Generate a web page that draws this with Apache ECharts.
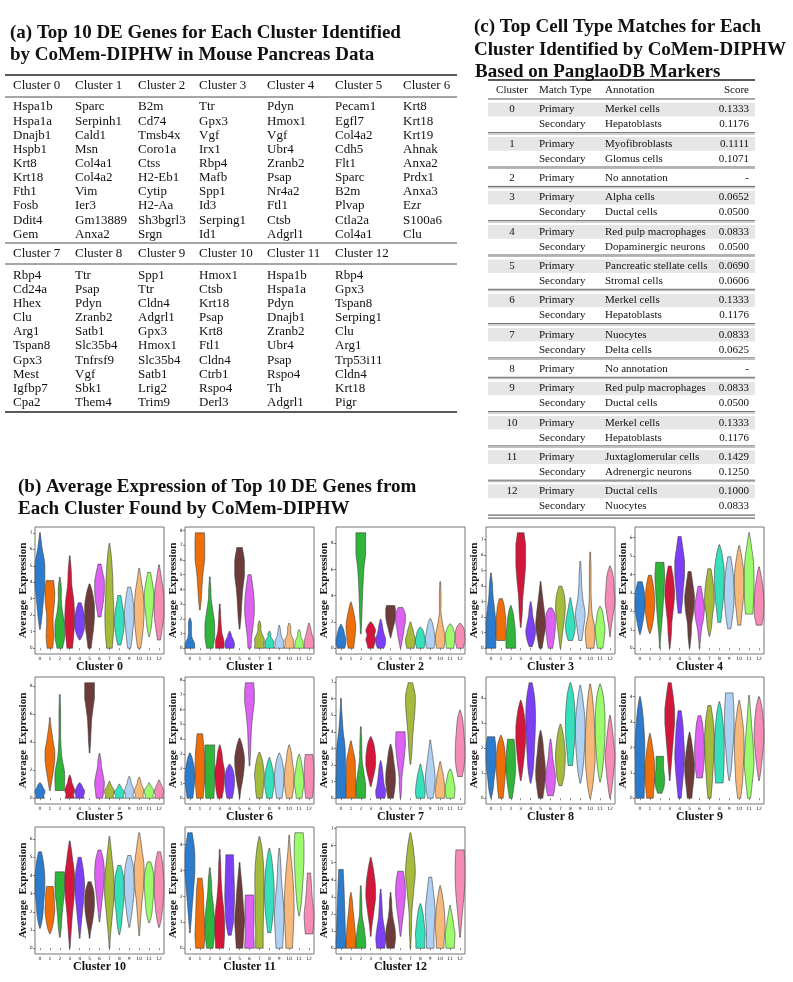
<!DOCTYPE html>
<html><head><meta charset="utf-8">
<script src="https://cdn.jsdelivr.net/npm/echarts@6/dist/echarts.min.js"></script>
<style>html,body{margin:0;padding:0;background:#fff}#c{width:793px;height:982px}</style>
</head><body><div id="c"></div>
<script>
// ---------- DATA ----------
const clusterNames = ['Cluster 0','Cluster 1','Cluster 2','Cluster 3','Cluster 4','Cluster 5','Cluster 6','Cluster 7','Cluster 8','Cluster 9','Cluster 10','Cluster 11','Cluster 12'];
const xCats = ['0','1','2','3','4','5','6','7','8','9','10','11','12'];
const violinColors = ['#2b7bce','#ee6f0a','#2fb53a','#d3173b','#7c3ff5','#6e3b3b','#dd62f3','#a6bb3c','#36e0bc','#b1d1f3','#f7b97a','#9cfb6c','#f68bb6'];

const genes0 = ['Hspa1b','Hspa1a','Dnajb1','Hspb1','Krt8','Krt18','Fth1','Fosb','Ddit4','Gem'];
const genes1 = ['Sparc','Serpinh1','Cald1','Msn','Col4a1','Col4a2','Vim','Ier3','Gm13889','Anxa2'];
const genes2 = ['B2m','Cd74','Tmsb4x','Coro1a','Ctss','H2-Eb1','Cytip','H2-Aa','Sh3bgrl3','Srgn'];
const genes3 = ['Ttr','Gpx3','Vgf','Irx1','Rbp4','Mafb','Spp1','Id3','Serping1','Id1'];
const genes4 = ['Pdyn','Hmox1','Vgf','Ubr4','Zranb2','Psap','Nr4a2','Ftl1','Ctsb','Adgrl1'];
const genes5 = ['Pecam1','Egfl7','Col4a2','Cdh5','Flt1','Sparc','B2m','Plvap','Ctla2a','Col4a1'];
const genes6 = ['Krt8','Krt18','Krt19','Ahnak','Anxa2','Prdx1','Anxa3','Ezr','S100a6','Clu'];
const genes7 = ['Rbp4','Cd24a','Hhex','Clu','Arg1','Tspan8','Gpx3','Mest','Igfbp7','Cpa2'];
const genes8 = ['Ttr','Psap','Pdyn','Zranb2','Satb1','Slc35b4','Tnfrsf9','Vgf','Sbk1','Them4'];
const genes9 = ['Spp1','Ttr','Cldn4','Adgrl1','Gpx3','Hmox1','Slc35b4','Satb1','Lrig2','Trim9'];
const genes10 = ['Hmox1','Ctsb','Krt18','Psap','Krt8','Ftl1','Cldn4','Ctrb1','Rspo4','Derl3'];
const genes11 = ['Hspa1b','Hspa1a','Pdyn','Dnajb1','Zranb2','Ubr4','Psap','Rspo4','Th','Adgrl1'];
const genes12 = ['Rbp4','Gpx3','Tspan8','Serping1','Clu','Arg1','Trp53i11','Cldn4','Krt18','Pigr'];

const matchCluster = ['0','1','2','3','4','5','6','7','8','9','10','11','12'];
const primaryAnnotation = ['Merkel cells','Myofibroblasts','No annotation','Alpha cells','Red pulp macrophages','Pancreatic stellate cells','Merkel cells','Nuocytes','No annotation','Red pulp macrophages','Merkel cells','Juxtaglomerular cells','Ductal cells'];
const primaryScore = ['0.1333','0.1111','-','0.0652','0.0833','0.0690','0.1333','0.0833','-','0.0833','0.1333','0.1429','0.1000'];
const secondaryAnnotation = ['Hepatoblasts','Glomus cells',null,'Ductal cells','Dopaminergic neurons','Stromal cells','Hepatoblasts','Delta cells',null,'Ductal cells','Hepatoblasts','Adrenergic neurons','Nuocytes'];
const secondaryScore = ['0.1176','0.1071',null,'0.0500','0.0500','0.0606','0.1176','0.0625',null,'0.0500','0.1176','0.1250','0.0833'];

// y tick labels per violin panel
const yTicks = [
  [0,1,2,3,4,5,6,7],[0,1,2,3,4,5,6,7,8],[0,2,4,6,8],[0,1,2,3,4,5,6,7],[0,1,2,3,4,5,6],
  [0,2,4,6,8],[0,1,2,3,4,5,6,7,8],[0,1,2,3,4,5,6,7],[0,1,2,3,4],[0,1,2,3,4],
  [0,1,2,3,4,5,6],[0,1,2,3,4],[0,1,2,3,4,5,6,7]
];

// each violin: [min, max, density-width at 7 evenly spaced levels from min to max (0..9)]
const violins0 = [
 [1.15,7.0, 0,2,5,9,8,2,0],[0,4.1, 3,5,4,4,7,8,5],[0,4.3, 3,8,8,3,1,1,0],[0,5.6, 3,6,8,6,2,1,0],
 [0.5,2.75, 0,4,8,9,7,4,1],[0,3.9, 1,3,6,8,8,4,0],[1.9,5.1, 1,3,6,8,8,4,1],[0,6.35, 3,6,7,5,4,2,0],
 [0.2,3.2, 1,4,7,8,6,3,1],[0,3.7, 1,3,5,8,7,4,1],[0,4.85, 1,4,7,8,6,2,0],[0.7,4.6, 0,2,4,7,8,4,1],
 [0.5,5.05, 1,4,8,8,6,2,0]];
const violins1 = [
 [0,2.05, 8,7,2,1,1,1,0],[2.6,7.85, 0,1,2,4,8,9,7],[0,4.85, 4,8,8,4,1,0.5,0],[0,3.0, 6,6,2,1,0.5,0.3,0],
 [0,1.15, 6,8,7,5,2,1,0],[1.3,6.85, 0,1,2,4,8,8,3],[0,5.0, 1,2,5,8,7,4,1],[0,1.85, 8,7,8,3,1,1,0],
 [0,1.15, 7,6,7,4,1,1,0],[0,1.55, 8,6,6,2,1,0.5,0],[0,1.7, 8,6,6,2,1,1,0],[0,1.25, 8,6,6,3,1,1,0],
 [0,1.7, 8,7,7,4,2,1,0]];
const violins2 = [
 [0,1.8, 5,8,9,6,4,2,0],[0,3.5, 3,5,7,8,5,2,0],[1.1,8.78, 0,0.5,1,2,4,9,8],[0,2.0, 3,5,8,5,8,4,0],
 [0,2.2, 4,8,8,4,2,1,0],[0.8,3.25, 0,1,3,6,8,9,6],[0,3.1, 0,1,3,5,8,8,2],[0,2.0, 5,7,9,5,3,1,0],
 [0,1.6, 5,7,9,7,5,3,0],[0,2.25, 5,7,8,6,4,2,0],[0,5.05, 5,8,3,0.5,0.3,0.3,0],[0,1.85, 5,6,7,8,6,3,0],
 [0,1.9, 4,6,8,7,7,4,0]];
const violins3 = [
 [0,4.85, 8,8,8,5,2,1,0],[0.5,3.2, 6,8,7,8,6,4,1],[0,2.75, 9,8,7,6,4,2,0],[1.35,7.45, 0,1,2,5,8,9,4],
 [0.1,3.0, 1,5,8,5,2,1,0],[0,4.3, 1,4,8,6,3,1,0],[0,2.6, 2,4,6,8,8,7,1],[0,4.0, 0,1,3,6,8,6,1],
 [0.5,3.25, 2,6,8,6,3,1,0],[0.5,5.6, 1,4,8,3,1,0.5,0],[0,6.2, 5,8,2,0.5,0.3,0.3,0],[0,2.7, 3,5,7,8,5,3,0],
 [0.75,5.3, 0,1,4,8,6,4,0]];
const violins4 = [
 [0.75,3.6, 0,2,5,8,8,6,2],[0.8,3.95, 0,3,6,8,7,4,1],[0,4.65, 0,0.5,2,4,6,8,6],[0,4.45, 0,1,2,5,8,5,1],
 [1.9,6.05, 1,3,5,8,8,4,1],[0,4.15, 0,1,2,6,8,4,1],[0,3.35, 0,0.5,2,6,8,4,1],[0.65,4.3, 0,2,4,8,7,4,1],
 [1.4,5.6, 1,3,6,8,8,4,0],[1.05,4.95, 1,4,7,8,7,4,1],[1.25,5.55, 1,3,6,8,7,3,0],[1.85,6.25, 5,7,8,8,6,2,0],
 [1.25,4.4, 3,7,8,7,5,2,0]];
const violins5 = [
 [0,1.1, 7,5,8,8,4,2,0],[0.55,5.75, 0,2,6,9,4,1,0],[0.55,7.4, 7,8,2,0.5,0.3,0.3,0],[0,1.65, 7,5,8,5,2,1,0],
 [0,1.1, 7,5,8,8,4,2,0],[3.25,8.25, 0,0.5,1,2,5,9,8],[0,3.2, 4,6,8,5,2,1,0],[0,1.2, 7,5,8,7,3,1,0],
 [0,1.0, 7,5,8,7,3,1,0],[0,1.55, 7,5,8,5,2,1,0],[0,1.5, 7,5,8,5,2,1,0],[0,1.1, 7,5,8,8,4,1,0],
 [0,1.3, 7,5,8,6,3,1,0]];
const violins6 = [
 [0,3.05, 3,5,7,8,6,3,0],[0,4.35, 4,6,8,8,7,5,3],[0,3.6, 6,7,8,8,9,9,8],[0,3.6, 2,5,7,8,4,2,0],
 [0,2.3, 3,5,7,8,7,4,0],[0,4.05, 0,1,4,7,8,4,0],[2.2,7.8, 0,0.5,1,2,5,9,6],[0,3.1, 3,5,6,8,6,3,0],
 [0,2.75, 3,5,8,7,5,2,0],[0,3.05, 3,5,7,8,6,3,0],[0,3.6, 3,6,8,7,4,2,0],[0,2.95, 3,5,8,7,4,2,0],
 [0,2.95, 4,6,7,8,8,7,5]];
const violins7 = [
 [0,6.0, 8,8,7,6,2,0.5,0],[0,3.45, 7,8,7,7,6,2,0],[0,4.3, 7,8,4,1,0.5,0.3,0],[0.7,3.7, 0,2,6,9,7,4,0],
 [0,2.25, 6,9,5,3,2,1,0],[0,3.25, 3,6,8,7,4,2,0],[0,4.0, 0,0.5,1,3,6,8,7],[2.05,6.95, 0,1,2,4,7,8,2],
 [0,2.05, 6,8,7,5,3,1,0],[0,3.5, 3,6,8,6,3,1,0],[0,2.2, 6,8,7,5,3,1,0],[0,1.75, 6,7,9,6,4,2,0],
 [1.3,5.3, 2,6,8,7,5,3,0]];
const violins8 = [
 [0,2.45, 0,2,4,7,8,8,5],[0,2.5, 2,4,6,8,7,4,0],[0,2.35, 1,3,6,8,7,6,4],[0.7,3.9, 0,2,5,8,8,4,0],
 [0.6,4.6, 0,3,5,7,8,6,1],[0,2.7, 2,5,8,7,4,2,0],[0.1,2.35, 3,7,8,5,2,1,0],[0.5,2.95, 1,5,7,8,6,3,0],
 [1.3,4.6, 2,4,7,8,7,4,0],[0.6,4.5, 0,3,6,8,7,3,0],[0,4.55, 0,4,8,8,6,3,0],[0.65,4.55, 0,3,6,8,8,5,0],
 [0,3.3, 0,2,5,8,5,2,0]];
const violins9 = [
 [0,4.0, 6,7,7,8,6,3,0],[0,2.55, 4,6,8,8,5,2,0],[0.2,1.65, 2,6,8,7,5,5,5],[0.7,4.55, 0,1,3,6,9,5,1],
 [0,3.45, 1,3,6,8,6,4,1],[0,2.6, 2,4,7,8,5,2,0],[0.8,3.25, 3,6,8,8,6,4,1],[0,3.65, 1,3,5,7,8,5,1],
 [0.6,3.8, 5,7,8,8,6,3,0],[0.7,4.15, 0,2,4,7,8,7,5],[0,3.85, 1,4,6,8,7,3,0],[0,4.05, 1,4,8,6,3,1,0],
 [0.7,4.0, 0,2,5,8,7,4,0]];
const violins10 = [
 [1.1,5.3, 0,3,5,8,8,5,1],[0.8,3.4, 0,3,6,8,7,6,4],[0.6,4.2, 0,1,2,4,7,8,7],[0,5.9, 0,1,3,7,8,3,0],
 [0.55,5.0, 0,1,3,6,8,5,1],[0.55,3.65, 0,1,4,7,8,6,1],[1.45,5.4, 0,1,3,6,8,6,1],[0,6.15, 0,1,4,8,6,2,0],
 [0.75,4.55, 0,2,4,7,8,6,1],[1.15,5.1, 0,2,5,8,8,6,1],[0.7,6.35, 0,1,3,7,8,3,0],[1.4,4.75, 0,3,5,7,8,6,1],
 [1.15,5.3, 0,3,6,8,7,5,1]];
const violins11 = [
 [0.6,4.45, 0,1,3,6,9,7,2],[0,2.7, 6,8,7,6,5,4,2],[0,3.1, 4,7,8,5,2,1,0],[0,3.8, 6,8,7,3,1,0.5,0],
 [0.5,3.6, 1,5,7,8,7,6,5],[0,3.3, 4,6,8,5,3,1,0],[0,2.05, 8,7,6,7,7,7,6],[0,4.3, 5,5,6,7,7,4,0],
 [0.6,3.85, 1,4,7,8,6,3,0],[0,3.85, 4,6,8,5,2,1,0],[0,4.35, 4,6,8,7,4,1,0],[1.25,4.45, 0,2,4,6,8,9,6],
 [0.55,2.9, 5,7,8,5,3,2,1]];
const violins12 = [
 [0,4.6, 9,7,6,5,4,3,2],[0,3.25, 9,8,6,4,2,1,0],[0,3.65, 9,7,4,1,0.5,0.3,0],[0.7,5.3, 0,1,4,8,7,3,0],
 [0,3.45, 6,8,5,2,1,0.5,0],[0,3.25, 5,8,7,3,1,0.5,0],[0.7,4.5, 0,1,3,6,8,7,3],[0,6.75, 0,0.5,1,4,8,4,0],
 [0,2.6, 7,7,8,6,4,2,0],[0,4.15, 5,5,6,8,6,3,1],[0,3.65, 5,6,8,7,5,2,0],[0,2.5, 6,7,8,5,3,1,0],
 [0.65,5.75, 0,1,3,6,8,8,6]];

// ---------- BUILD ----------
const allGenes = [genes0,genes1,genes2,genes3,genes4,genes5,genes6,genes7,genes8,genes9,genes10,genes11,genes12];
const allViolins = [violins0,violins1,violins2,violins3,violins4,violins5,violins6,violins7,violins8,violins9,violins10,violins11,violins12];

const chart = echarts.init(document.getElementById('c'), null, {renderer:'canvas'});
const SERIF = '"Liberation Serif", "DejaVu Serif", serif';
const TXT = '#111';

const colLefts = [35,185,336,486,635];
const rowTops = [527,677,827];
const PW = 129, PH = 127;

function widthAt(ws, s){
  const i = Math.min(5, Math.floor(s)); const t = s - i;
  const p0 = ws[Math.max(0,i-1)], p1 = ws[i], p2 = ws[i+1], p3 = ws[Math.min(6,i+2)];
  const v = 0.5*((2*p1) + (-p0+p2)*t + (2*p0-5*p1+4*p2-p3)*t*t + (-p0+3*p1-3*p2+p3)*t*t*t);
  return Math.max(0, v);
}

const grids=[], xAxes=[], yAxes=[], series=[], graphics=[];
allViolins.forEach((vs, gi) => {
  const col = gi % 5, row = Math.floor(gi/5);
  const left = colLefts[col], top = rowTops[row];
  grids.push({left:left, top:top, width:PW, height:PH, show:true, borderColor:'#777', borderWidth:1, backgroundColor:'#fff'});
  xAxes.push({type:'category', gridIndex:gi, data:xCats, axisLine:{show:false},
    axisTick:{show:true, alignWithLabel:true, length:2, lineStyle:{color:'#333', width:0.6}},
    axisLabel:{fontSize:4.5, margin:2.5, color:'#222', interval:0, fontFamily:'DejaVu Sans'}});
  const dmax = Math.max(...vs.map(v=>v[1]));
  yAxes.push({type:'value', gridIndex:gi, min:-0.05*dmax, max:1.05*dmax, splitLine:{show:false}, axisLine:{show:false},
    axisTick:{show:true, length:2, customValues:yTicks[gi], lineStyle:{color:'#333', width:0.6}},
    axisLabel:{fontSize:4.5, margin:2.5, color:'#222', customValues:yTicks[gi], fontFamily:'DejaVu Sans'}});
  const band = PW/xCats.length;
  series.push({type:'custom', xAxisIndex:gi, yAxisIndex:gi, silent:true,
    data: vs.map((v,i)=>[i].concat(v)),
    encode:{x:0, y:[1,2]},
    renderItem:(params, api)=>{
      const xi = api.value(0), mn = api.value(1), mx = api.value(2);
      const ws = []; for (let k=0;k<7;k++) ws.push(api.value(3+k));
      const half = band*0.49;
      const cx = api.coord([xi, mn])[0];
      const N = 60, R=[], L=[];
      for (let k=0;k<=N;k++){
        const t=k/N, y=mn+t*(mx-mn);
        const f = Math.min(1, widthAt(ws, t*6)/8);
        const hw = Math.max(0.45, Math.pow(f, 0.55)*half);
        const py = api.coord([xi,y])[1];
        R.push([cx+hw,py]); L.push([cx-hw,py]);
      }
      const pts = R.concat(L.reverse());
      return {type:'polygon', shape:{points:pts}, style:{fill:violinColors[xi], stroke:'#3c3c3c', lineWidth:0.6}};
    }});
  graphics.push({type:'text', x:left+PW/2, y:top+PH+13, style:{text:clusterNames[gi], font:'bold 12px '+SERIF, fill:TXT, align:'center', verticalAlign:'middle'}});
  graphics.push({type:'text', x:left-12, y:top+PH/2, rotation:Math.PI/2, style:{text:'Average  Expression', font:'bold 11px '+SERIF, fill:TXT, align:'center', verticalAlign:'middle'}});
});

// Titles
const titleFont = 'bold 19px '+SERIF;
[['(a) Top 10 DE Genes for Each Cluster Identified',10,33],['by CoMem-DIPHW in Mouse Pancreas Data',10,55],
 ['(b) Average Expression of Top 10 DE Genes from',18,487],['Each Cluster Found by CoMem-DIPHW',18,509],
 ['(c) Top Cell Type Matches for Each',474,27],['Cluster Identified by CoMem-DIPHW',474,50],['Based on PanglaoDB Markers',475,72]
].forEach(([t,x,y])=>graphics.push({type:'text', x:x, y:y, style:{text:t, font:titleFont, fill:TXT, align:'left', verticalAlign:'middle'}}));

function hline(x1,x2,y,w,c){ graphics.push({type:'line', shape:{x1:x1,y1:y,x2:x2,y2:y}, style:{stroke:c||'#222', lineWidth:w}}); }

// Table (a)
const aCols = [13,75,138,199,267,335,403];
const aFont = '13px '+SERIF;
hline(5,457,75,1.3); hline(5,457,97,0.8); hline(5,457,243,0.8); hline(5,457,264,0.8); hline(5,457,412,1.3);
for (let s=0;s<2;s++){
  const headY = s===0?86:254, rowY = s===0?107:275.3;
  for (let c=0;c<7;c++){
    const ci = s*7+c; if (ci>12) break;
    graphics.push({type:'text', x:aCols[c], y:headY, style:{text:clusterNames[ci], font:aFont, fill:TXT, align:'left', verticalAlign:'middle'}});
    allGenes[ci].forEach((g,r)=>graphics.push({type:'text', x:aCols[c], y:rowY+r*14.15, style:{text:g, font:aFont, fill:TXT, align:'left', verticalAlign:'middle'}}));
  }
}

// Table (c)
const cFont = '11px '+SERIF;
const cx0=488, cx1=755;
hline(cx0,cx1,80,1.3);
[['Cluster',512,'center'],['Match Type',539,'left'],['Annotation',605,'left'],['Score',749,'right']].forEach(([t,x,a])=>
  graphics.push({type:'text', x:x, y:90, style:{text:t, font:cFont, fill:TXT, align:a, verticalAlign:'middle'}}));
hline(cx0,cx1,99,0.9,'#444');
let y0 = 99;
matchCluster.forEach((cl,i)=>{
  const two = secondaryAnnotation[i]!==null;
  if (two) graphics.push({type:'rect', z:-1, shape:{x:cx0, y:y0+3.8, width:cx1-cx0, height:13.6}, style:{fill:'#e6e6e6'}});
  const rows = [['Primary', primaryAnnotation[i], primaryScore[i]]];
  if (two) rows.push(['Secondary', secondaryAnnotation[i], secondaryScore[i]]);
  rows.forEach((r,k)=>{
    const yy = y0+10.5+k*15;
    if (k===0) graphics.push({type:'text', x:512, y:yy, style:{text:cl, font:cFont, fill:TXT, align:'center', verticalAlign:'middle'}});
    graphics.push({type:'text', x:539, y:yy, style:{text:r[0], font:cFont, fill:TXT, align:'left', verticalAlign:'middle'}});
    graphics.push({type:'text', x:605, y:yy, style:{text:r[1], font:cFont, fill:TXT, align:'left', verticalAlign:'middle'}});
    graphics.push({type:'text', x:749, y:yy, style:{text:r[2], font:cFont, fill:TXT, align:'right', verticalAlign:'middle'}});
  });
  y0 += two ? 34.3 : 19.4;
  if (i<12){ hline(cx0,cx1,y0-0.6,0.9,'#555'); hline(cx0,cx1,y0+0.8,1,'#b0b0b0'); }
  else { hline(cx0,cx1,y0,0.9,'#333'); hline(cx0,cx1,y0+3,0.9,'#333'); }
});

chart.setOption({
  animation:false,
  backgroundColor:'#fff',
  grid:grids, xAxis:xAxes, yAxis:yAxes, series:series,
  graphic:{elements:graphics}
});
</script></body></html>
